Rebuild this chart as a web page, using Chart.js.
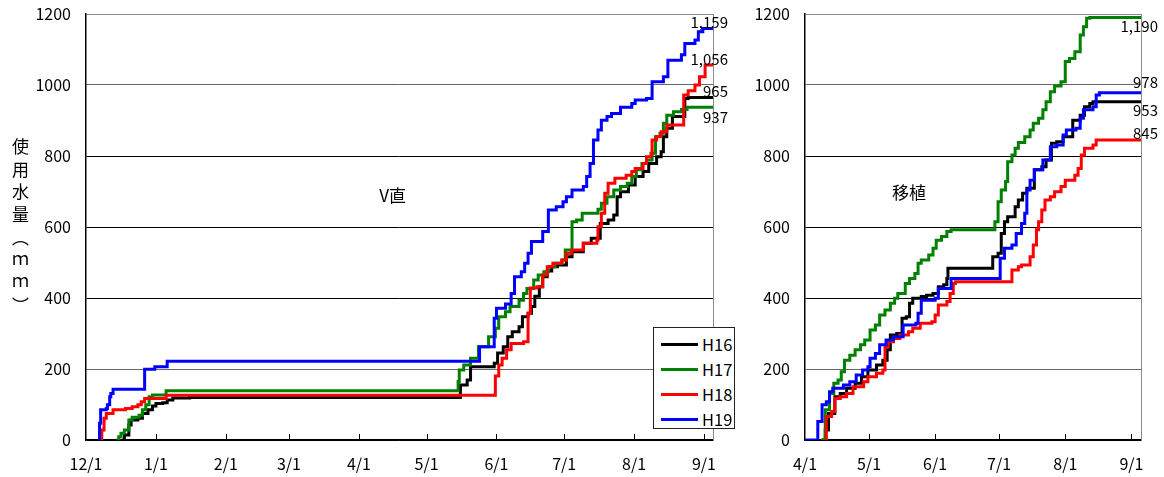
<!DOCTYPE html>
<html><head><meta charset="utf-8">
<script src="https://cdn.jsdelivr.net/npm/chart.js@4.4.1/dist/chart.umd.min.js"></script>
<style>
html,body{margin:0;padding:0;background:#fff;}
#wrap{position:relative;width:1164px;height:477px;overflow:hidden;font-family:'Noto Sans CJK JP',sans-serif;color:#000;}
#c1box{position:absolute;left:0;top:0;width:745px;height:477px;}
#c2box{position:absolute;left:745px;top:0;width:419px;height:477px;}
#ytitle{position:absolute;left:11px;top:138px;writing-mode:vertical-rl;font-size:17px;letter-spacing:5.7px;line-height:18px;}
#legend{position:absolute;left:653px;top:327px;width:80px;height:100px;border:1px solid #222;background:#fff;}
.lrow{position:absolute;left:0;width:80px;height:24px;}
.lline{position:absolute;left:7px;top:11px;width:37px;height:3px;}
.ltext{position:absolute;left:48px;top:0;line-height:24px;font-size:16.5px;}
</style></head>
<body>
<div id="wrap">
  <div id="c1box"><canvas id="c1" width="745" height="477"></canvas></div>
  <div id="c2box"><canvas id="c2" width="419" height="477"></canvas></div>
  <div id="ytitle">使用水量（ｍｍ）</div>
  <div id="legend"></div>
</div>
<script>
// ---- data ----
const seriesNames = ['H16','H17','H18','H19'];
const seriesColors = ['#000000','#008000','#ff0000','#0000ff'];

// V直 (days from 12/1)
const vTickDays = [0,31,62,90,121,151,182,212,243,274];
const vTickLabels = ['12/1','1/1','2/1','3/1','4/1','5/1','6/1','7/1','8/1','9/1'];
const vMaxDay = 278;
const vH16 = [[16,0],[17,14],[19,42],[20,56],[23,61],[25,75],[27.5,85],[29.5,96],[31,103],[34,105],[36,113],[38.5,118],[46,120],
[166,155],[169,169],[170.5,206],[181,216],[182.5,245],[185,263],[187,291],[189,305],[192,319],[193.5,347],[196,357],[197.5,376],[199,405],[201,432],[202.5,460],[204.5,476],[206.5,488],[209,493],[213,516],[215.5,530],[220.5,554],[224,568],[228,610],[231.5,620],[234,634],[235.5,685],[237,699],[240.5,718],[243.5,742],[247,756],[249.5,779],[253,798],[255,812],[256,854],[257.5,878],[260,911],[265.5,962],[267,965],[278,965]];
const vH17 = [[13.5,0],[14.5,9],[15.5,19],[17,28],[19,56],[20.5,64],[23.5,70],[25,85],[26.5,99],[28,122],[29.5,127],[35.5,139],
[165,165],[165.5,197],[167.5,211],[170.5,230],[174,263],[178.5,291],[181.5,315],[183,347],[186,361],[188,376],[192,394],[194,413],[195.5,427],[198.5,451],[200.5,465],[203,474],[205,488],[208,498],[211,507],[212.5,535],[215.5,615],[217.5,620],[220,639],[227,650],[228.5,667],[231,685],[234,704],[237,714],[240,723],[242,742],[244,761],[246.5,779],[248.5,789],[251,808],[252.5,854],[254.5,864],[256,892],[257.5,915],[260.5,925],[264,931],[266.5,937],[278,937]];
const vH18 = [[6.5,0],[7,28],[8,61],[9,75],[12,85],[17.5,89],[20.5,94],[23,99],[24.5,108],[26,117],[35.5,126],
[181.5,180],[183,211],[184.5,230],[186.5,254],[188.5,272],[194,277],[196,357],[197,428],[200,432],[202.5,465],[204.5,488],[207,498],[211,507],[213,526],[215.5,535],[220.5,554],[226.5,563],[227,601],[228.5,639],[230,695],[231.5,723],[234.5,737],[239.5,746],[242,756],[243.5,765],[247,779],[248.5,798],[250.5,808],[251,845],[253,855],[255,868],[257.5,887],[265,972],[267,984],[270,1000],[272,1023],[274.5,1056],[278,1056]];
const vH19 = [[5.5,0],[6,47],[6.5,85],[9,89],[9.5,99],[10.5,122],[11,131],[12,143],[26,199],[30.5,206],[36,222],
[174.5,263],[181,343],[182,371],[186,383],[188.5,413],[190,460],[193,474],[194.5,498],[196,526],[197.5,559],[202.5,587],[205,648],[208.5,657],[211.5,671],[213,685],[215.5,704],[220.5,714],[222,742],[223.5,779],[225,845],[227,873],[228.5,901],[231,911],[233,920],[237,937],[242,948],[243.5,958],[248.5,962],[251,1009],[256,1023],[258,1070],[264,1085],[265.5,1117],[270,1127],[271.5,1150],[273.5,1159],[278,1159]];

// 移植 (days from 4/1)
const tTickDays = [0,30,61,91,122,153];
const tTickLabels = ['4/1','5/1','6/1','7/1','8/1','9/1'];
const tMaxDay = 157.5;
const tH16 = [[8,0],[9.5,28],[11,75],[14,122],[16.5,131],[19.5,146],[23.5,160],[26.5,178],[29.5,197],[33.5,211],[36.5,225],[38.5,254],[40,296],[43,300],[45.5,343],[47.5,347],[49,385],[50.5,399],[54.5,404],[57,408],[60,413],[62.5,432],[65,437],[66.5,455],[67,484],[88,516],[90.5,526],[92,582],[93.5,615],[95,629],[98.5,657],[100,676],[102,695],[104,709],[107.5,761],[111,770],[113,789],[115.5,836],[118,840],[121,854],[125.5,901],[129,915],[131,939],[133.5,948],[135,953],[157.5,953]];
const tH17 = [[7.5,0],[9.5,85],[11.5,131],[13.5,160],[15.5,169],[17,192],[18.5,225],[21,239],[23.5,254],[26,268],[28,282],[30.5,310],[33,324],[35,352],[37.5,366],[40,385],[42,399],[43.5,413],[47,441],[49,455],[51.5,469],[53,498],[54.5,507],[58,521],[60,540],[61.5,563],[64,573],[66.5,587],[68.5,592],[89,615],[90.5,671],[92,704],[94,728],[95,784],[97,803],[98.5,822],[100,838],[103,854],[105.5,873],[107,892],[109.5,906],[111.5,930],[113,953],[115,981],[117,997],[120,1009],[122,1066],[124,1075],[126.5,1094],[129,1141],[130.5,1164],[132,1188],[133.5,1190],[157.5,1190]];
const tH18 = [[9.5,0],[10,66],[12.5,80],[14,117],[16.5,122],[19.5,131],[22.5,150],[27.5,164],[29.5,178],[33.5,188],[36.5,197],[37.5,263],[39,277],[41.5,286],[44.5,296],[48.5,305],[50.5,315],[54,329],[59.5,333],[61,352],[62.5,380],[66.5,390],[68,413],[69.5,441],[70.5,446],[97,479],[100,488],[101.5,493],[105.5,516],[107,549],[108.5,592],[109.5,615],[111,648],[112.5,676],[115,685],[117,699],[120,714],[122,732],[126.5,746],[128,765],[129.5,803],[131,822],[135,831],[136.5,845],[157.5,845]];
const tH19 = [[0,0],[6,52],[8,99],[10,108],[11.5,136],[13,146],[18,155],[21,164],[24,183],[27,197],[29.5,206],[30.5,230],[33,244],[35,268],[38,282],[41.5,291],[46,324],[52,329],[53,357],[54.5,394],[61,399],[62.5,427],[68.5,455],[91.5,512],[93.5,540],[97,549],[99,582],[101.5,610],[103,639],[104,704],[105.5,732],[107.5,761],[111.5,789],[115,826],[118,831],[121,859],[122.5,873],[127,878],[129,906],[130.5,930],[135,939],[136.5,972],[138,978],[157.5,978]];

const yTicks = [0,200,400,600,800,1000,1200];

// ---- drawing ----
const FONT = "'Noto Sans CJK JP', sans-serif";
Chart.defaults.font.family = FONT;
Chart.defaults.font.size = 16;
Chart.defaults.color = '#000';

const annotate = {
  id: 'annotate',
  beforeDatasetsDraw(chart) {
    const {ctx, chartArea: a, scales: {x}} = chart;
    ctx.save();
    ctx.strokeStyle = '#8c8c8c'; ctx.lineWidth = 1;
    ctx.beginPath(); ctx.moveTo(Math.round(a.right) + 0.5, a.top); ctx.lineTo(Math.round(a.right) + 0.5, a.bottom); ctx.stroke();
    ctx.strokeStyle = '#000';
    x.ticks.forEach(t => {
      const px = Math.round(x.getPixelForValue(t.value)) + 0.5;
      if (px > a.left + 3) { ctx.beginPath(); ctx.moveTo(px, a.bottom); ctx.lineTo(px, a.bottom - 6); ctx.stroke(); }
    });
    ctx.restore();
  },
  afterDatasetsDraw(chart, args, opts) {
    const {ctx, chartArea: a, scales: {x, y}} = chart;
    ctx.save();
    ctx.fillStyle = '#000';
    ctx.font = '17px ' + FONT; ctx.textAlign = 'center'; ctx.textBaseline = 'middle';
    ctx.fillText(opts.title, x.getPixelForValue(opts.titleX), y.getPixelForValue(opts.titleY));
    ctx.font = '15px ' + FONT; ctx.textAlign = 'right';
    chart.data.datasets.forEach((ds, i) => {
      const last = ds.data[ds.data.length - 1];
      ctx.fillText(last.y.toLocaleString('en-US'), a.right + opts.labelDx, y.getPixelForValue(last.y) + opts.offsets[i]);
    });
    ctx.restore();
  }
};

function makeChart(id, seriesList, tickDays, tickLabels, maxDay, yWidth, padRight, ann) {
  return new Chart(document.getElementById(id), {
    type: 'line',
    data: {
      datasets: seriesList.map((s, i) => ({
        label: seriesNames[i],
        data: s.map(([d, v]) => ({x: d, y: v})),
        borderColor: seriesColors[i],
        backgroundColor: seriesColors[i],
        borderWidth: 3,
        pointRadius: 0,
        stepped: true,
        fill: false,
        order: 3 - i
      }))
    },
    options: {
      responsive: false, animation: false, devicePixelRatio: 1,
      layout: {padding: {left: 0, right: padRight, top: 14, bottom: 0}},
      plugins: {legend: {display: false}, tooltip: {enabled: false}, annotate: ann},
      scales: {
        x: {
          type: 'linear', min: 0, max: maxDay,
          afterBuildTicks: s => { s.ticks = tickDays.map(v => ({value: v})); },
          afterFit: s => { s.height = 37; s.paddingLeft = 0; s.paddingRight = 0; },
          ticks: {autoSkip: false, maxRotation: 0, minRotation: 0, padding: 14, callback: (v, i) => tickLabels[i]},
          grid: {display: false, drawTicks: false},
          border: {display: true, color: '#000', width: 1.5}
        },
        y: {
          min: 0, max: 1200,
          afterBuildTicks: s => { s.ticks = yTicks.map(v => ({value: v})); },
          afterFit: s => { s.width = yWidth; s.paddingTop = 0; s.paddingBottom = 0; },
          ticks: {padding: 15, callback: v => String(v)},
          grid: {drawTicks: false, lineWidth: 1,
            color: c => (c.tick && c.tick.value === 1200) ? '#8c8c8c' : ((c.tick && (c.tick.value === 1000 || c.tick.value === 200)) ? '#666' : '#000')},
          border: {display: true, color: '#000', width: 1.5}
        }
      }
    },
    plugins: [annotate]
  });
}

function draw() {
  makeChart('c1', [vH16, vH17, vH18, vH19], vTickDays, vTickLabels, vMaxDay, 86, 32,
    {title: 'V直', titleX: 136, titleY: 690, labelDx: 15, offsets: [-6, 10, -6, -6]});
  makeChart('c2', [tH16, tH17, tH18, tH19], tTickDays, tTickLabels, tMaxDay, 60, 23,
    {title: '移植', titleX: 48.7, titleY: 696, labelDx: 17, offsets: [9, 8.5, -6.5, -11]});
  const lg = document.getElementById('legend');
  seriesNames.forEach((n, i) => {
    const r = document.createElement('div'); r.className = 'lrow'; r.style.top = (4 + i * 24.9) + 'px';
    const l = document.createElement('div'); l.className = 'lline'; l.style.background = seriesColors[i];
    const t = document.createElement('div'); t.className = 'ltext'; t.textContent = n;
    r.appendChild(l); r.appendChild(t); lg.appendChild(r);
  });
}
if (document.fonts && document.fonts.load) {
  document.fonts.load("16px 'Noto Sans CJK JP'").then(draw, draw);
} else { draw(); }
</script>
</body></html>
